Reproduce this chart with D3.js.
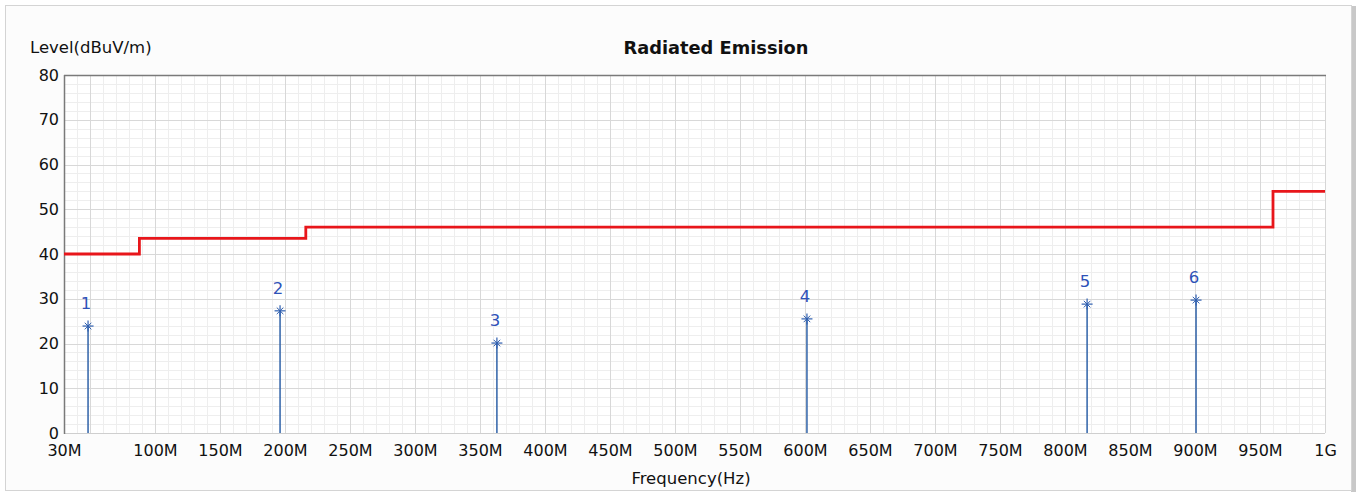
<!DOCTYPE html>
<html>
<head>
<meta charset="utf-8">
<script src="https://cdn.jsdelivr.net/npm/d3@7"></script>
<style>
  html, body { margin: 0; padding: 0; background: #ffffff; }
  svg { display: block; }
  text { font-family: "DejaVu Sans", sans-serif; }
</style>
</head>
<body>
<svg id="chart" width="1360" height="493"></svg>
<script>
// ---- data ----
const xTickValues = [30, 100, 150, 200, 250, 300, 350, 400, 450, 500, 550, 600, 650, 700, 750, 800, 850, 900, 950, 1000];
const xTickLabels = ["30M", "100M", "150M", "200M", "250M", "300M", "350M", "400M", "450M", "500M", "550M", "600M", "650M", "700M", "750M", "800M", "850M", "900M", "950M", "1G"];
const yTickValues = [0, 10, 20, 30, 40, 50, 60, 70, 80];

const limitFreq  = [30, 88, 216, 960, 1000];
const limitLevel = [40, 43.5, 46, 54, 54];

const markerNo    = [1, 2, 3, 4, 5, 6];
const markerFreq  = [48.5, 196.2, 363, 601.5, 817, 900.8];
const markerLevel = [23.9, 27.3, 20.1, 25.5, 28.8, 29.7];

const titleText = "Radiated Emission";
const yLabelText = "Level(dBuV/m)";
const xLabelText = "Frequency(Hz)";

// ---- layout ----
const svg = d3.select("#chart");
const W = 1360, H = 493;
const plot = { left: 64, top: 75, right: 1325, bottom: 433 };

// outer frame
svg.append("rect").attr("x", 0).attr("y", 0).attr("width", W).attr("height", H).attr("fill", "#ffffff");
svg.append("rect").attr("x", 1351).attr("y", 6).attr("width", 5).attr("height", 486).attr("fill", "#c8c8c8");
svg.append("rect").attr("x", 5.5).attr("y", 5.5).attr("width", 1346).attr("height", 485)
  .attr("fill", "#fcfcfc").attr("stroke", "#d4d4d4").attr("stroke-width", 1);

const x = d3.scaleLinear().domain([30, 1000]).range([plot.left, plot.right]);
const y = d3.scaleLinear().domain([0, 80]).range([plot.bottom, plot.top]);

// plot background
svg.append("rect").attr("x", plot.left).attr("y", plot.top)
  .attr("width", plot.right - plot.left).attr("height", plot.bottom - plot.top).attr("fill", "#ffffff");

// grid
const g = svg.append("g");
const minorX = d3.range(40, 1000, 10).filter(v => v % 50 !== 0);
const majorX = d3.range(50, 1000, 50);
const minorY = d3.range(2, 80, 2).filter(v => v % 10 !== 0);
const majorY = d3.range(10, 80, 10);

g.selectAll(".mx").data(minorX).join("line")
  .attr("x1", d => Math.round(x(d)) + 0.5).attr("x2", d => Math.round(x(d)) + 0.5)
  .attr("y1", plot.top).attr("y2", plot.bottom).attr("stroke", "#eeeeee").attr("stroke-width", 1);
g.selectAll(".my").data(minorY).join("line")
  .attr("y1", d => Math.round(y(d)) + 0.5).attr("y2", d => Math.round(y(d)) + 0.5)
  .attr("x1", plot.left).attr("x2", plot.right).attr("stroke", "#eeeeee").attr("stroke-width", 1);
g.selectAll(".Mx").data(majorX).join("line")
  .attr("x1", d => Math.round(x(d)) + 0.5).attr("x2", d => Math.round(x(d)) + 0.5)
  .attr("y1", plot.top).attr("y2", plot.bottom).attr("stroke", "#d8d8d8").attr("stroke-width", 1);
g.selectAll(".My").data(majorY).join("line")
  .attr("y1", d => Math.round(y(d)) + 0.5).attr("y2", d => Math.round(y(d)) + 0.5)
  .attr("x1", plot.left).attr("x2", plot.right).attr("stroke", "#d8d8d8").attr("stroke-width", 1);

// plot borders
svg.append("line").attr("x1", plot.right + 0.5).attr("x2", plot.right + 0.5).attr("y1", plot.top).attr("y2", plot.bottom)
  .attr("stroke", "#d6d6d6");
svg.append("line").attr("x1", plot.left).attr("x2", plot.right).attr("y1", plot.bottom + 0.5).attr("y2", plot.bottom + 0.5)
  .attr("stroke", "#cfcfcf");
svg.append("line").attr("x1", plot.left).attr("x2", plot.right + 1).attr("y1", plot.top + 0.5).attr("y2", plot.top + 0.5)
  .attr("stroke", "#7a7a7a").attr("stroke-width", 1.5);
svg.append("line").attr("x1", plot.left + 0.5).attr("x2", plot.left + 0.5).attr("y1", plot.top).attr("y2", plot.bottom + 1)
  .attr("stroke", "#7a7a7a").attr("stroke-width", 1.5);

// axes (labels only)
const xAxis = d3.axisBottom(x).tickValues(xTickValues)
  .tickFormat((d, i) => xTickLabels[i]).tickSize(0).tickPadding(12);
const xg = svg.append("g").attr("transform", `translate(0,${plot.bottom})`).call(xAxis);
xg.select(".domain").remove();
xg.selectAll("text").attr("font-family", "DejaVu Sans, sans-serif").attr("font-size", 16).attr("fill", "#111");

const yAxis = d3.axisLeft(y).tickValues(yTickValues).tickSize(0).tickPadding(5);
const yg = svg.append("g").attr("transform", `translate(${plot.left},0)`).call(yAxis);
yg.select(".domain").remove();
yg.selectAll("text").attr("font-family", "DejaVu Sans, sans-serif").attr("font-size", 16).attr("fill", "#111");

// limit line
const limitData = limitFreq.map((f, i) => [f, limitLevel[i]]);
svg.append("path").datum(limitData)
  .attr("d", d3.line().x(d => x(d[0])).y(d => y(d[1])).curve(d3.curveStepAfter))
  .attr("fill", "none").attr("stroke", "#e8161b").attr("stroke-width", 2.8);

// markers
const markers = markerNo.map((n, i) => ({ n, f: markerFreq[i], v: markerLevel[i] }));
const mg = svg.append("g");
mg.selectAll(".stem").data(markers).join("line")
  .attr("x1", d => x(d.f)).attr("x2", d => x(d.f))
  .attr("y1", y(0)).attr("y2", d => y(d.v))
  .attr("stroke", "#2f62a8").attr("stroke-width", 1.5);
const star = mg.selectAll(".star").data(markers).join("g")
  .attr("transform", d => `translate(${x(d.f)},${y(d.v)})`);
const r = 5.5;
star.append("line").attr("x1", -r).attr("x2", r).attr("y1", 0).attr("y2", 0).attr("stroke", "#2f5fb0").attr("stroke-width", 1.2);
star.append("line").attr("x1", 0).attr("x2", 0).attr("y1", -r).attr("y2", r).attr("stroke", "#2f5fb0").attr("stroke-width", 1.2);
star.append("line").attr("x1", -r * 0.6).attr("x2", r * 0.6).attr("y1", -r * 0.6).attr("y2", r * 0.6).attr("stroke", "#2f5fb0").attr("stroke-width", 1);
star.append("line").attr("x1", -r * 0.6).attr("x2", r * 0.6).attr("y1", r * 0.6).attr("y2", -r * 0.6).attr("stroke", "#2f5fb0").attr("stroke-width", 1);
mg.selectAll(".lbl").data(markers).join("text")
  .attr("x", d => x(d.f) - 2).attr("y", d => y(d.v) - 17)
  .attr("text-anchor", "middle").attr("font-size", 16.5).attr("fill", "#2e52b8")
  .text(d => d.n);

// titles
svg.append("text").attr("x", 716).attr("y", 54).attr("text-anchor", "middle")
  .attr("font-size", 17.8).attr("font-weight", "bold").attr("fill", "#111").text(titleText);
svg.append("text").attr("x", 30).attr("y", 53).attr("text-anchor", "start")
  .attr("font-size", 16.5).attr("fill", "#111").text(yLabelText);
svg.append("text").attr("x", 691).attr("y", 484).attr("text-anchor", "middle")
  .attr("font-size", 16.5).attr("fill", "#111").text(xLabelText);
</script>
</body>
</html>
